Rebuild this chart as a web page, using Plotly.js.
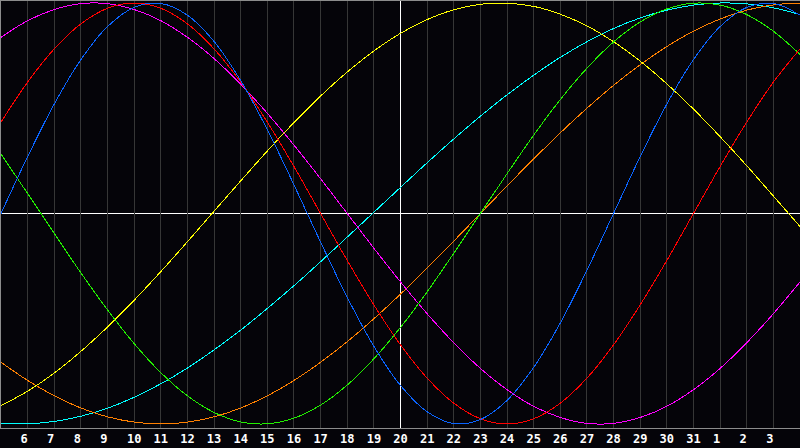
<!DOCTYPE html>
<html>
<head>
<meta charset="utf-8">
<script src="https://cdn.plot.ly/plotly-3.0.1.min.js"></script>
<style>
  html, body { margin: 0; padding: 0; background: #050409; }
  #chart { width: 800px; height: 448px; }
  .scatterlayer .js-line { shape-rendering: crispEdges; }
</style>
</head>
<body>
<div id="chart"></div>
<script>
// Days shown (day 32..34 are the 1st..3rd of the next month)
const days = [5,6,7,8,9,10,11,12,13,14,15,16,17,18,19,20,21,22,23,24,25,26,27,28,29,30,31,32,33,34,35];
const tickDays = [6,7,8,9,10,11,12,13,14,15,16,17,18,19,20,21,22,23,24,25,26,27,28,29,30,31,32,33,34];
const tickLabels = ["6","7","8","9","10","11","12","13","14","15","16","17","18","19","20","21","22","23","24","25","26","27","28","29","30","31","1","2","3"];
const todayDay = 20;
const yRange = [-1.019, 1.0095];

// Series values, one per day
const physical = [0,0.27,0.52,0.731,0.888,0.979,0.998,0.942,0.817,0.631,0.398,0.136,-0.136,-0.398,-0.631,-0.817,-0.942,-0.998,-0.979,-0.888,-0.731,-0.52,-0.27,0,0.27,0.52,0.731,0.888,0.979,0.998,0.942];
const emotional = [0.434,0.624,0.782,0.901,0.975,1,0.975,0.901,0.782,0.624,0.434,0.223,0,-0.223,-0.434,-0.624,-0.782,-0.901,-0.975,-1,-0.975,-0.901,-0.782,-0.624,-0.434,-0.223,0,0.223,0.434,0.624,0.782];
const intellectual = [0.282,0.095,-0.095,-0.282,-0.458,-0.618,-0.756,-0.866,-0.945,-0.99,-0.999,-0.972,-0.91,-0.815,-0.69,-0.541,-0.372,-0.189,0,0.189,0.372,0.541,0.69,0.815,0.91,0.972,0.999,0.99,0.945,0.866,0.756];
const intuitive = [0.837,0.916,0.969,0.997,0.997,0.969,0.916,0.837,0.736,0.614,0.476,0.325,0.165,0,-0.165,-0.325,-0.476,-0.614,-0.736,-0.837,-0.916,-0.969,-0.997,-0.997,-0.969,-0.916,-0.837,-0.736,-0.614,-0.476,-0.325];
const aesthetic = [-0.913,-0.844,-0.758,-0.655,-0.539,-0.412,-0.276,-0.134,0.011,0.155,0.297,0.432,0.558,0.672,0.772,0.856,0.921,0.968,0.994,0.999,0.984,0.947,0.891,0.816,0.724,0.616,0.496,0.365,0.227,0.083,-0.062];
const awareness = [-0.707,-0.793,-0.866,-0.924,-0.966,-0.991,-1,-0.991,-0.966,-0.924,-0.866,-0.793,-0.707,-0.609,-0.5,-0.383,-0.259,-0.131,0,0.131,0.259,0.383,0.5,0.609,0.707,0.793,0.866,0.924,0.966,0.991,1];
const spiritual = [-0.997,-0.999,-0.988,-0.963,-0.925,-0.873,-0.809,-0.734,-0.648,-0.554,-0.451,-0.343,-0.229,-0.112,0.006,0.124,0.241,0.354,0.462,0.564,0.657,0.742,0.816,0.879,0.929,0.966,0.99,1,0.996,0.977,0.945];

const seriesList = [
  {name: "Spiritual", y: spiritual, color: "#00ffff"},
  {name: "Awareness", y: awareness, color: "#ff8000"},
  {name: "Aesthetic", y: aesthetic, color: "#ffff00"},
  {name: "Intuitive", y: intuitive, color: "#ff00ff"},
  {name: "Intellectual", y: intellectual, color: "#22ee00"},
  {name: "Emotional", y: emotional, color: "#ff0000"},
  {name: "Physical", y: physical, color: "#0a64ff"}
];

// "Today" marker line, drawn first so the curves sit on top of it
const todayTrace = {
  type: "scatter", mode: "lines", name: "today",
  x: [todayDay, todayDay], y: yRange,
  line: {color: "#ffffff", width: 1},
  hoverinfo: "skip"
};

const traces = [todayTrace].concat(seriesList.map(s => ({
  type: "scatter",
  mode: "lines",
  name: s.name,
  x: days,
  y: s.y,
  line: {color: s.color, width: 1, shape: "spline", smoothing: 1},
  hoverinfo: "skip"
})));

const layout = {
  width: 800,
  height: 448,
  margin: {l: 1, r: 0, t: 1, b: 20, pad: 0},
  paper_bgcolor: "#050409",
  plot_bgcolor: "#050409",
  showlegend: false,
  xaxis: {
    range: [5, 35],
    tickmode: "array",
    tickvals: tickDays,
    ticktext: tickLabels.map(t => t.length === 1 ? t + "\u00a0" : t),
    ticks: "",
    showgrid: true,
    gridcolor: "#363636",
    gridwidth: 1,
    zeroline: false,
    showline: true,
    linecolor: "#8c8c8c",
    linewidth: 1,
    mirror: true,
    tickfont: {family: "DejaVu Sans Mono", size: 12, color: "#ffffff", weight: "bold"},
    fixedrange: true
  },
  yaxis: {
    range: yRange,
    showgrid: false,
    zeroline: false,
    showticklabels: false,
    ticks: "",
    showline: true,
    linecolor: "#8c8c8c",
    linewidth: 1,
    mirror: false,
    fixedrange: true
  },
  shapes: [
    {type: "line", xref: "paper", yref: "y", x0: 0, x1: 1, y0: 0, y1: 0,
     line: {color: "#ffffff", width: 1}, layer: "between"}
  ]
};

Plotly.newPlot("chart", traces, layout, {staticPlot: true, displayModeBar: false});
</script>
</body>
</html>
